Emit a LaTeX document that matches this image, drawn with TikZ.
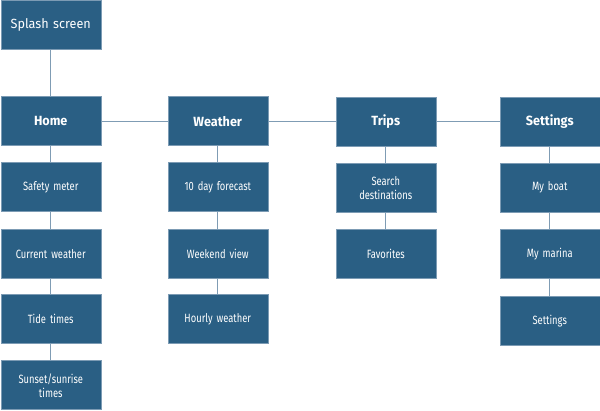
\documentclass[tikz,border=0pt]{standalone}
\usepackage{fontspec}
\setmainfont{Fira Sans}[FakeStretch=0.78]
\newfontfamily\headfont{Fira Sans}[FakeStretch=0.95]
\definecolor{boxblue}{HTML}{2A5F84}
\definecolor{boxedge}{HTML}{7C9BB4}
\definecolor{linkc}{HTML}{7F9CB4}
\begin{document}
\begin{tikzpicture}[x=1pt,y=-1pt,
  pagebox/.style={rectangle, fill=boxblue, draw=boxedge, line width=0.5pt,
    minimum width=100pt, minimum height=49pt, inner sep=0pt, anchor=north west,
    text=white, align=center, text width=92pt, font=\fontsize{12}{14}\selectfont},
  headbox/.style={pagebox, font=\headfont\bfseries\fontsize{13.3}{15}\selectfont},
  splashbox/.style={pagebox, font=\headfont\fontsize{13.3}{15}\selectfont},
  link/.style={draw=linkc, line width=1pt}]
\useasboundingbox (0,0) rectangle (600,411);
% columns x: 0.5, 167.5, 335.5, 499.5
\node[splashbox] (splash) at (0.5,0.5) {Splash screen};
\node[headbox] (home) at (0.5,96.5) {Home};
\node[headbox] (weather) at (167.5,96.5) {Weather};
\node[headbox] (trips) at (335.5,97) {Trips};
\node[headbox] (settings) at (499.5,97) {Settings};
% Home column
\node[pagebox] (safety) at (0.5,162.5) {Safety meter};
\node[pagebox] (current) at (0.5,229) {Current weather};
\node[pagebox] (tide) at (0.5,294.5) {Tide times};
\node[pagebox] (sunset) at (0.5,360.5) {Sunset/sunrise\\times};
% Weather column
\node[pagebox] (tenday) at (167.5,162.5) {10 day forecast};
\node[pagebox] (weekend) at (167.5,229) {Weekend view};
\node[pagebox] (hourly) at (167.5,294.5) {Hourly weather};
% Trips column
\node[pagebox] (search) at (335.5,163) {Search\\destinations};
\node[pagebox] (favorites) at (335.5,229) {Favorites};
% Settings column
\node[pagebox] (boat) at (499.5,163) {My boat};
\node[pagebox] (marina) at (499.5,229.5) {My marina};
\node[pagebox] (setpage) at (499.5,296) {Settings};
% connectors
\draw[link] (splash.south) -- (home.north);
\draw[link] (home.east) -- (weather.west);
\draw[link] (weather.east) -- (trips.west |- weather.east);
\draw[link] (trips.east) -- (settings.west);
\draw[link] (home.south) -- (safety.north);
\draw[link] (safety.south) -- (current.north);
\draw[link] (current.south) -- (tide.north);
\draw[link] (tide.south) -- (sunset.north);
\draw[link] (weather.south) -- (tenday.north);
\draw[link] (tenday.south) -- (weekend.north);
\draw[link] (weekend.south) -- (hourly.north);
\draw[link] (trips.south) -- (search.north);
\draw[link] (search.south) -- (favorites.north);
\draw[link] (settings.south) -- (boat.north);
\draw[link] (boat.south) -- (marina.north);
\draw[link] (marina.south) -- (setpage.north);
\end{tikzpicture}
\end{document}
